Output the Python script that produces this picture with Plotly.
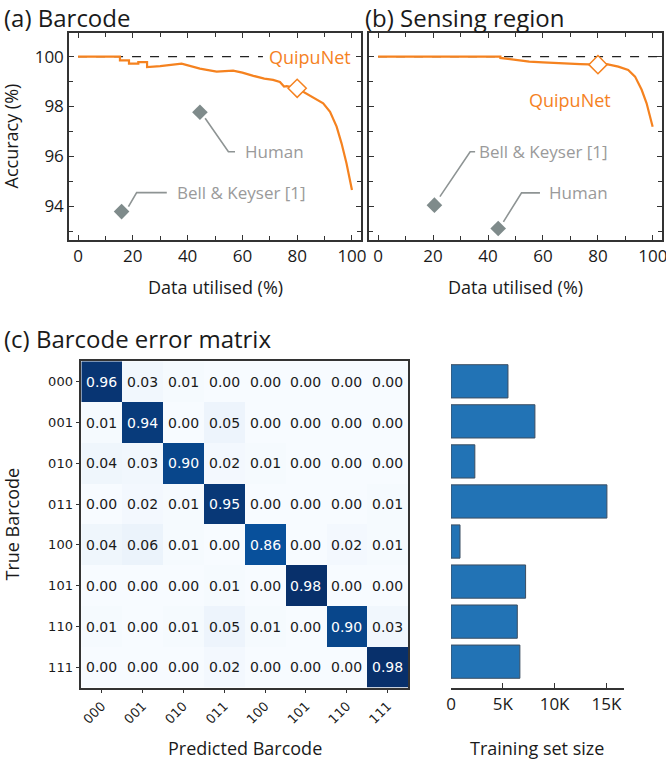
import plotly.graph_objects as go

# ---------------- data ----------------
# (a) Barcode: QuipuNet accuracy vs data utilised
a_x = [0, 15.3, 15.3, 18.6, 18.6, 22.0, 22.0, 25.2, 25.2, 30.0, 37.8, 41.0, 44.5, 47.0,
       50.6, 56.6, 60.0, 64.0, 68.0, 71.2, 73.7, 75.2, 76.2, 80.0, 82.8, 86.5, 89.5,
       92.0, 94.4, 96.2, 98.0, 100.0]
a_y = [100, 100, 99.85, 99.85, 99.72, 99.72, 99.78, 99.78, 99.58, 99.62, 99.72, 99.62,
       99.52, 99.47, 99.40, 99.44, 99.36, 99.23, 99.12, 99.07, 98.98, 98.80, 98.82,
       98.73, 98.55, 98.33, 98.13, 97.79, 97.19, 96.52, 95.72, 94.65]
# (b) Sensing region
b_x = [0, 44.5, 44.5, 48.0, 51.6, 55.0, 60.0, 66.2, 69.8, 73.5, 80.0, 83.2, 87.4, 91.0,
       93.5, 95.9, 97.7, 98.9, 99.9]
b_y = [100, 100, 99.95, 99.90, 99.85, 99.80, 99.77, 99.73, 99.70, 99.70, 99.68, 99.70,
       99.60, 99.47, 99.20, 98.67, 98.13, 97.66, 97.19]

ref_a_x = [0, 67.5]
ref_b_x = [0, 103.3]
ref_y = [100, 100]

a_op_x, a_op_y = [80], [98.73]
b_op_x, b_op_y = [80], [99.68]

a_human = (44.5, 97.77)
a_bell = (15.9, 93.78)
b_human = (43.7, 93.10)
b_bell = (20.5, 94.04)

# leader lines (x list, y list)
a_bell_line = ([18.4, 21.4, 32.4], [93.98, 94.54, 94.54])
a_human_line = ([46.4, 54.9, 57.3], [97.53, 96.18, 96.18])
b_bell_line = ([22.5, 33.5, 35.3], [94.38, 96.18, 96.18])
b_human_line = ([45.6, 52.2, 58.9], [93.37, 94.53, 94.53])

# (c) error matrix
codes = ["000", "001", "010", "011", "100", "101", "110", "111"]
err = [
    [0.96, 0.03, 0.01, 0.00, 0.00, 0.00, 0.00, 0.00],
    [0.01, 0.94, 0.00, 0.05, 0.00, 0.00, 0.00, 0.00],
    [0.04, 0.03, 0.90, 0.02, 0.01, 0.00, 0.00, 0.00],
    [0.00, 0.02, 0.01, 0.95, 0.00, 0.00, 0.00, 0.01],
    [0.04, 0.06, 0.01, 0.00, 0.86, 0.00, 0.02, 0.01],
    [0.00, 0.00, 0.00, 0.01, 0.00, 0.98, 0.00, 0.00],
    [0.01, 0.00, 0.01, 0.05, 0.01, 0.00, 0.90, 0.03],
    [0.00, 0.00, 0.00, 0.02, 0.00, 0.00, 0.00, 0.98],
]
train_size = [5500, 8100, 2300, 15050, 870, 7200, 6400, 6650]
bar_ticks = [0, 5000, 10000, 15000]
bar_ticktext = ["0", "5K", "10K", "15K"]

# ---------------- style ----------------
W, H = 666, 761
def fx(p): return p / W
def fy(p): return 1 - p / H

ORANGE = "#f5821f"
GRAY_MK = "#7f8b8b"
GRAY_LN = "#8e9494"
GRAY_TXT = "#9a9a9a"
AX = "#333333"
FONT = "Open Sans"
DV = "DejaVu Sans"
blues = ["#f7fbff", "#deebf7", "#c6dbef", "#9ecae1", "#6baed6",
         "#4292c6", "#2171b5", "#08519c", "#08306b"]
bscale = [[i / 8, c] for i, c in enumerate(blues)]

fig = go.Figure()

def panel(xs, ys, refx, opx, opy, human, bell, hl, bl, xa, ya):
    fig.add_trace(go.Scatter(x=refx, y=ref_y, mode="lines",
                             line=dict(color="#222", width=1.2, dash="dash"),
                             xaxis=xa, yaxis=ya, hoverinfo="skip"))
    fig.add_trace(go.Scatter(x=xs, y=ys, mode="lines",
                             line=dict(color=ORANGE, width=2.2),
                             xaxis=xa, yaxis=ya))
    fig.add_trace(go.Scatter(x=opx, y=opy, mode="markers",
                             marker=dict(symbol="diamond", size=14, color="white",
                                         line=dict(color=ORANGE, width=1.5)),
                             xaxis=xa, yaxis=ya))
    for ln in (hl, bl):
        fig.add_trace(go.Scatter(x=ln[0], y=ln[1], mode="lines",
                                 line=dict(color=GRAY_LN, width=1.6),
                                 xaxis=xa, yaxis=ya, hoverinfo="skip"))
    fig.add_trace(go.Scatter(x=[human[0], bell[0]], y=[human[1], bell[1]], mode="markers",
                             marker=dict(symbol="diamond", size=12, color=GRAY_MK),
                             xaxis=xa, yaxis=ya))

panel(a_x, a_y, ref_a_x, a_op_x, a_op_y, a_human, a_bell, a_human_line, a_bell_line, "x", "y")
panel(b_x, b_y, ref_b_x, b_op_x, b_op_y, b_human, b_bell, b_human_line, b_bell_line, "x2", "y2")

# heatmap
fig.add_trace(go.Heatmap(z=err, x=list(range(8)), y=list(range(8)),
                         colorscale=bscale, zmin=0, zmax=0.98, showscale=False,
                         xgap=0, ygap=0, xaxis="x3", yaxis="y3"))
# bars
fig.add_trace(go.Bar(x=train_size, y=list(range(8)), orientation="h", width=0.83,
                     marker=dict(color="#2273b5", line=dict(color="#3b4d60", width=1)),
                     xaxis="x4", yaxis="y4"))

ann = []
# heatmap text
for i, row in enumerate(err):
    for j, v in enumerate(row):
        ann.append(dict(x=j, y=i, xref="x3", yref="y3", text=f"{v:.2f}", showarrow=False,
                        font=dict(family=DV, size=14, color="white" if v > 0.5 else "#1a1a1a")))

def txt(x, y, s, xr, yr, color, size, xanchor="left", **kw):
    ann.append(dict(x=x, y=y, xref=xr, yref=yr, text=s, showarrow=False, xanchor=xanchor,
                    yanchor="middle", font=dict(family=FONT, size=size, color=color), **kw))

# panel labels in data coords
txt(69.0, 100.0, "QuipuNet", "x", "y", ORANGE, 18)
txt(60.1, 96.18, "Human", "x", "y", GRAY_TXT, 17)
txt(35.4, 94.54, "Bell &amp; Keyser [1]", "x", "y", GRAY_TXT, 17)
txt(54.2, 98.25, "QuipuNet", "x2", "y2", ORANGE, 18)
txt(35.9, 96.18, "Bell &amp; Keyser [1]", "x2", "y2", GRAY_TXT, 17)
txt(61.3, 94.53, "Human", "x2", "y2", GRAY_TXT, 17)

# titles and axis titles
txt(fx(2), fy(17), "(a) Barcode", "paper", "paper", "#1a1a1a", 24)
txt(fx(363), fy(17), "(b) Sensing region", "paper", "paper", "#1a1a1a", 24)
txt(fx(2), fy(338), "(c) Barcode error matrix", "paper", "paper", "#1a1a1a", 24)
txt(fx(10), fy(136.5), "Accuracy (%)", "paper", "paper", "#1a1a1a", 18, xanchor="center", textangle=-90)
txt(fx(215), fy(287), "Data utilised (%)", "paper", "paper", "#1a1a1a", 18, xanchor="center")
txt(fx(515.5), fy(287), "Data utilised (%)", "paper", "paper", "#1a1a1a", 18, xanchor="center")
txt(fx(11), fy(524.5), "True Barcode", "paper", "paper", "#1a1a1a", 18, xanchor="center", textangle=-90)
txt(fx(244.5), fy(748), "Predicted Barcode", "paper", "paper", "#1a1a1a", 18, xanchor="center")
txt(fx(537), fy(748), "Training set size", "paper", "paper", "#1a1a1a", 18, xanchor="center")

top_x = dict(range=[-3.3, 103.3], showline=True, mirror="ticks", linecolor=AX, linewidth=1.5,
             ticks="inside", ticklen=5, tickwidth=1.2, tickcolor=AX, tick0=0, dtick=20,
             minor=dict(dtick=10, ticks="inside", ticklen=4, tickwidth=1.2, tickcolor=AX),
             showgrid=False, zeroline=False, automargin=False, ticklabeloverflow="allow",
             tickfont=dict(family=FONT, size=17, color="#1a1a1a"))
top_y = dict(range=[92.64, 100.95], domain=[fy(240), fy(33)], showline=True, mirror="ticks",
             linecolor=AX, linewidth=1.5, ticks="inside", ticklen=5, tickwidth=1.2, tickcolor=AX,
             tick0=0, dtick=2,
             minor=dict(dtick=1, ticks="inside", ticklen=4, tickwidth=1.2, tickcolor=AX),
             showgrid=False, zeroline=False, automargin=False,
             tickfont=dict(family=FONT, size=17, color="#1a1a1a"))

fig.update_layout(
    template="none",
    width=W, height=H, margin=dict(l=0, r=0, t=0, b=0, autoexpand=False),
    paper_bgcolor="white", plot_bgcolor="white", showlegend=False,
    xaxis=dict(top_x, domain=[fx(69), fx(361)], anchor="y"),
    yaxis=dict(top_y, anchor="x"),
    xaxis2=dict(top_x, domain=[fx(369), fx(662)], anchor="y2"),
    yaxis2=dict(top_y, anchor="x2", showticklabels=False),
    xaxis3=dict(domain=[fx(81.3), fx(408)], anchor="y3", range=[-0.5, 7.5],
                tickvals=list(range(8)), ticktext=codes, tickangle=-45,
                ticks="outside", ticklen=4, tickcolor=AX, showline=True, mirror=True,
                linecolor=AX, linewidth=1.5, showgrid=False, zeroline=False, automargin=False,
                tickfont=dict(family=DV, size=13, color="#1a1a1a")),
    yaxis3=dict(domain=[fy(687.7), fy(361.3)], anchor="x3", range=[7.5, -0.5],
                tickvals=list(range(8)), ticktext=codes,
                ticks="outside", ticklen=4, tickcolor=AX, showline=True, mirror=True,
                linecolor=AX, linewidth=1.5, showgrid=False, zeroline=False, automargin=False,
                tickfont=dict(family=DV, size=13, color="#1a1a1a")),
    xaxis4=dict(domain=[fx(451), fx(624)], anchor="y4", range=[0, 16700],
                tickvals=bar_ticks, ticktext=bar_ticktext, ticks="inside", ticklen=5,
                tickcolor=AX, showline=True, linecolor=AX, linewidth=1.5, showgrid=False,
                zeroline=False, automargin=False,
                tickfont=dict(family=FONT, size=17, color="#1a1a1a")),
    yaxis4=dict(domain=[fy(687.7), fy(361.3)], anchor="x4", range=[7.65, -0.5],
                visible=False, automargin=False),
    annotations=ann,
)

fig.write_html("out.html", config={"displayModeBar": False},
               post_script="document.body.style.margin='0px';document.body.style.overflow='hidden';")
